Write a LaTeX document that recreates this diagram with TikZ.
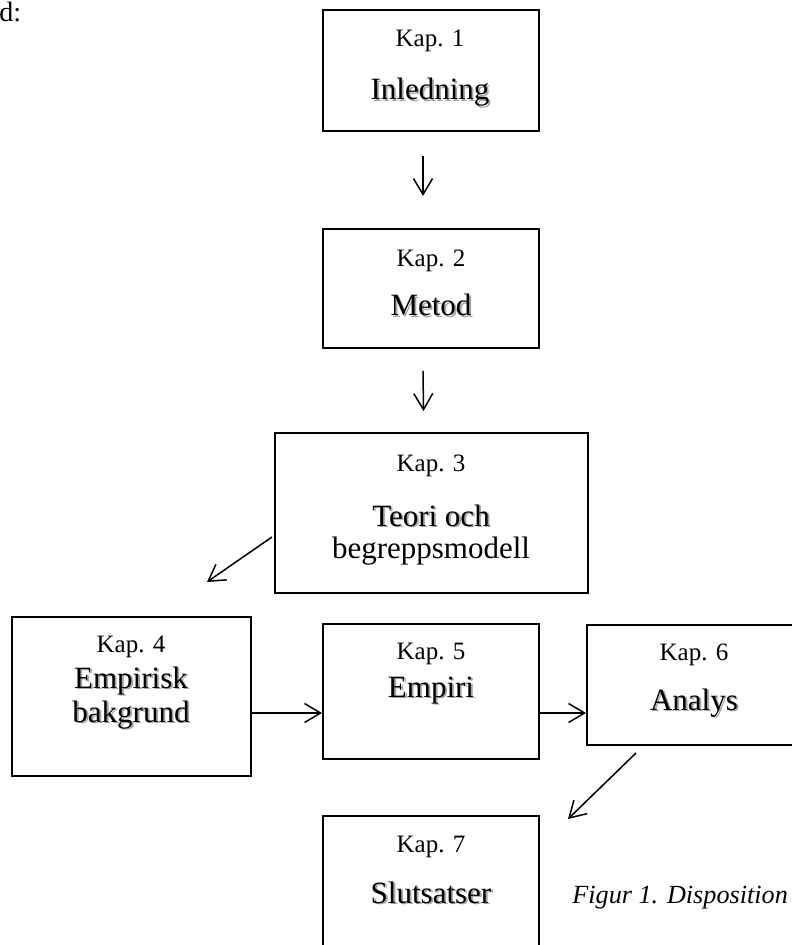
\documentclass[tikz,border=0pt]{standalone}
\usepackage{fontspec}
\setmainfont{Liberation Serif}
\usetikzlibrary{arrows.meta}
\newcommand{\shadowed}[1]{\makebox[0pt][l]{\hspace{0.9pt}\raisebox{-0.9pt}{\textcolor{black!35}{#1}}}#1}

\begin{document}
\begin{tikzpicture}[x=0.5pt, y=-0.5pt,
    chap/.style={draw, line width=1pt, inner sep=0pt},
    kap/.style={font=\fontsize{12.5}{15}\selectfont, inner sep=0pt, anchor=base},
    title/.style={font=\fontsize{15.5}{18}\selectfont, inner sep=0pt, anchor=base},
    arr/.style={line width=0.75pt, -{Straight Barb[length=8pt,width=9.5pt]}}]
        \useasboundingbox (0,0) rectangle (791,945);
        \node[kap, anchor=base west, font=\fontsize{14}{16}\selectfont] (intro) at (-1,22) {d:};
        \node[chap, minimum width=108pt, minimum height=60.5pt] (k1) at (431,70.5) {};
        \node[chap, minimum width=108pt, minimum height=59.5pt] (k2) at (431,288.5) {};
        \node[chap, minimum width=156.5pt, minimum height=80pt] (k3) at (431.5,513) {};
        \node[chap, minimum width=119.5pt, minimum height=79.5pt] (k4) at (131.5,696.5) {};
        \node[chap, minimum width=108pt, minimum height=67.5pt] (k5) at (431,691.5) {};
        \node[chap, minimum width=107pt, minimum height=60pt] (k6) at (694,685) {};
        \node[chap, minimum width=108pt, minimum height=72pt] (k7) at (431,888) {};
        \foreach \n/\x/\y in {1/430/47, 2/431/267, 3/431/471, 4/131/652, 5/431/659, 6/694/660, 7/431/852} {
          \node[kap] (kap\n) at (\x,\y) {Kap. \n};
        }
        \node[title] (inledning) at (430,100) {\shadowed{Inledning}};
        \node[title] (metod) at (431,316) {\shadowed{Metod}};
        \node[title] (teori) at (431,526) {\shadowed{Teori och}};
        \node[title] (begrepp) at (431,558) {begreppsmodell};
        \node[title] (empirisk) at (131,688) {\shadowed{Empirisk}};
        \node[title] (bakgrund) at (131,722) {\shadowed{bakgrund}};
        \node[title] (empiri) at (431,697) {\shadowed{Empiri}};
        \node[title] (analys) at (694,710) {\shadowed{Analys}};
        \node[title] (slutsatser) at (431,903) {\shadowed{Slutsatser}};
        \node[kap, anchor=base west, font=\fontsize{13.1}{16}\selectfont\itshape] (figur) at (572,903) {Figur 1. Disposition};
        \draw[arr] ([xshift=-4pt,yshift=-12pt]k1.south) -- ([xshift=-4pt,yshift=16pt]k2.north);
        \draw[arr] ([xshift=-4pt,yshift=-11pt]k2.south) -- ([xshift=-4pt,yshift=10.5pt]k3.north);
        \draw[arr] ([xshift=-1pt,yshift=-12pt]k3.west) -- ([xshift=37.75pt,yshift=17pt]k4.north);
        \draw[arr] ([yshift=-8.25pt]k4.east) -- ([yshift=-8.25pt]k4.east -| k5.west);
        \draw[arr] ([yshift=-10.75pt]k5.east) -- ([yshift=-10.75pt]k5.east -| k6.west);
        \draw[arr] ([xshift=-29pt,yshift=-3.5pt]k6.south) -- ([xshift=14pt,yshift=-2pt]k7.north east);
      \end{tikzpicture}
\end{document}
